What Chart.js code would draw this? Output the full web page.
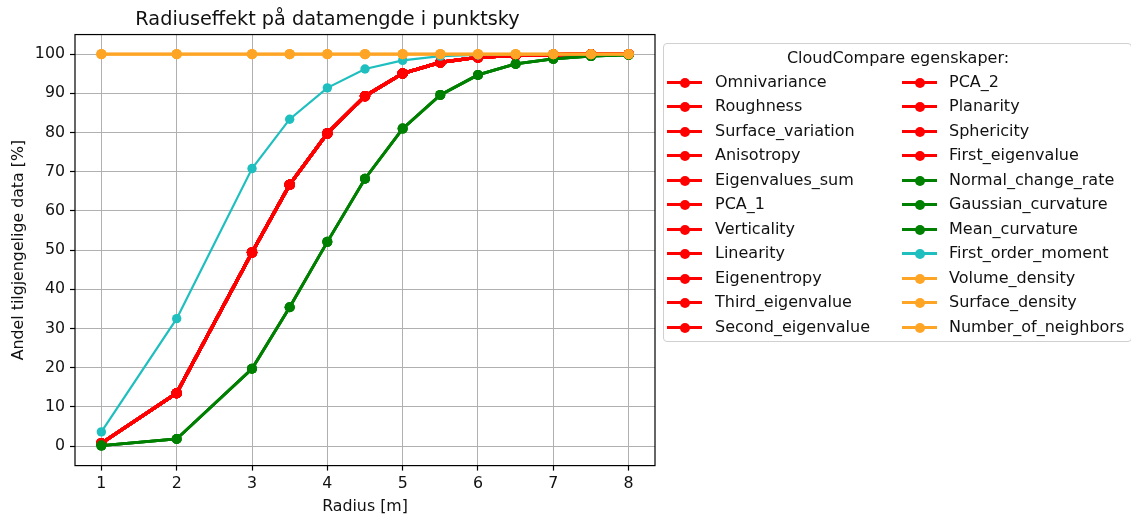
<!DOCTYPE html>
<html>
<head>
<meta charset="utf-8">
<script src="https://cdn.jsdelivr.net/npm/chart.js@4"></script>
<style>
    body { margin: 0; background: #fff; font-family: 'DejaVu Sans', sans-serif; }
    #wrap { position: relative; width: 1131px; height: 517px; overflow: hidden; }
    #legend {
        position: absolute; left: 663px; top: 43px; width: 469px; height: 299px;
        box-sizing: border-box; border: 1px solid #d0d0d0; border-radius: 4px;
        background: rgba(255, 255, 255, 0.8); color: #111; font-size: 16px;
    }
    .legend-title { position: absolute; left: 0; width: 468px; text-align: center; line-height: 20px; }
    .legend-item { position: absolute; line-height: 20px; white-space: nowrap; }
    .legend-line { position: absolute; width: 35px; height: 3px; }
    .legend-dot { position: absolute; width: 10px; height: 10px; border-radius: 50%; }
</style>
</head>
<body>
<div id="wrap">
    <canvas id="chart" width="1131" height="517"></canvas>
    <div id="legend"></div>
</div>
<script>
const radius = [1, 2, 3, 3.5, 4, 4.5, 5, 5.5, 6, 6.5, 7, 7.5, 8];
const xTicks = [1, 2, 3, 4, 5, 6, 7, 8];
const yTicks = [0, 10, 20, 30, 40, 50, 60, 70, 80, 90, 100];

const redFeatures = ['Omnivariance', 'Roughness', 'Surface_variation', 'Anisotropy', 'Eigenvalues_sum',
    'PCA_1', 'Verticality', 'Linearity', 'Eigenentropy', 'Third_eigenvalue', 'Second_eigenvalue',
    'PCA_2', 'Planarity', 'Sphericity', 'First_eigenvalue'];
const greenFeatures = ['Normal_change_rate', 'Gaussian_curvature', 'Mean_curvature'];
const cyanFeatures = ['First_order_moment'];
const orangeFeatures = ['Volume_density', 'Surface_density', 'Number_of_neighbors'];

const redValues = [0.7, 13.5, 49.4, 66.7, 79.8, 89.3, 95.1, 97.9, 99.2, 99.7, 99.9, 100, 100];
const greenValues = [0.1, 1.8, 19.7, 35.4, 52.1, 68.2, 81.0, 89.6, 94.7, 97.5, 98.8, 99.5, 99.8];
const cyanValues = [3.6, 32.5, 70.8, 83.4, 91.4, 96.2, 98.4, 99.5, 99.8, 99.9, 100, 100, 100];
const orangeValues = [100, 100, 100, 100, 100, 100, 100, 100, 100, 100, 100, 100, 100];

const groups = [
    { names: redFeatures, values: redValues, color: '#ff0000', width: 3.2, point: 5.2 },
    { names: greenFeatures, values: greenValues, color: '#008000', width: 2.8, point: 5 },
    { names: cyanFeatures, values: cyanValues, color: '#1fbfbf', width: 2.2, point: 4.7 },
    { names: orangeFeatures, values: orangeValues, color: '#ffa526', width: 2.8, point: 5 }
];

const font = 'DejaVu Sans';

// one dataset per feature, later ones drawn on top like matplotlib
let datasets = [];
groups.forEach(g => {
    g.names.forEach(name => {
        datasets.push({
            label: name,
            data: radius.map((r, i) => ({ x: r, y: g.values[i] })),
            borderColor: g.color,
            backgroundColor: g.color,
            borderWidth: g.width,
            pointRadius: g.point,
            pointBorderWidth: 0,
            pointBackgroundColor: g.color
        });
    });
});
datasets.forEach((d, i) => { d.order = datasets.length - i; });

const frame = {
    id: 'frame',
    afterDatasetsDraw(chart) {
        const a = chart.chartArea;
        const ctx = chart.ctx;
        ctx.save();
        ctx.strokeStyle = '#000';
        ctx.lineWidth = 1.2;
        ctx.strokeRect(a.left, a.top, a.right - a.left, a.bottom - a.top);
        ctx.restore();
    }
};

const gridStyle = { color: '#b0b0b0', lineWidth: 1, tickLength: 5, tickColor: '#000', tickWidth: 1.2 };

new Chart(document.getElementById('chart'), {
    type: 'line',
    data: { datasets: datasets },
    plugins: [frame],
    options: {
        responsive: false,
        animation: false,
        devicePixelRatio: 1,
        layout: { padding: { left: 0, right: 476, top: 0, bottom: 0 } },
        plugins: {
            legend: { display: false },
            tooltip: { enabled: false },
            title: {
                display: true,
                text: 'Radiuseffekt på datamengde i punktsky',
                color: '#111',
                font: { family: font, size: 19.3, weight: 'normal' },
                padding: { top: 8.4, bottom: 3 }
            }
        },
        scales: {
            x: {
                type: 'linear',
                min: 0.65,
                max: 8.35,
                afterBuildTicks: s => { s.ticks = xTicks.map(v => ({ value: v })); },
                afterFit: s => { s.height = 51.4; },
                grid: gridStyle,
                border: { display: false },
                ticks: { color: '#111', padding: 4, maxRotation: 0, font: { family: font, size: 15.8 } },
                title: {
                    display: true, text: 'Radius [m]', color: '#111',
                    font: { family: font, size: 15.8 }, padding: { top: 0, bottom: 0.8 }
                }
            },
            y: {
                type: 'linear',
                min: -5,
                max: 105,
                afterBuildTicks: s => { s.ticks = yTicks.map(v => ({ value: v })); },
                afterFit: s => { s.width = 75; },
                grid: gridStyle,
                border: { display: false },
                ticks: { color: '#111', padding: 5, font: { family: font, size: 15.8 } },
                title: {
                    display: true, text: 'Andel tilgjengelige data [%]', color: '#111',
                    font: { family: font, size: 15.8 }, padding: { top: 9, bottom: 0 }
                }
            }
        }
    }
});

// legend in two columns, filled column by column
function buildLegend() {
    const box = document.getElementById('legend');
    const title = document.createElement('div');
    title.className = 'legend-title';
    title.textContent = 'CloudCompare egenskaper:';
    title.style.top = (14 - 10) + 'px';
    box.appendChild(title);

    const perColumn = Math.ceil(datasets.length / 2);
    datasets.forEach((d, i) => {
        const col = Math.floor(i / perColumn);
        const row = i % perColumn;
        const cy = Math.round(37.7 + row * 24.5);
        const mx = col === 0 ? 3 : 238;
        const tx = col === 0 ? 51 : 285;

        const line = document.createElement('div');
        line.className = 'legend-line';
        line.style.left = mx + 'px';
        line.style.top = (cy - 1) + 'px';
        line.style.background = d.borderColor;
        box.appendChild(line);

        const dot = document.createElement('div');
        dot.className = 'legend-dot';
        dot.style.left = (mx + 13) + 'px';
        dot.style.top = (cy - 4.5) + 'px';
        dot.style.background = d.borderColor;
        box.appendChild(dot);

        const label = document.createElement('div');
        label.className = 'legend-item';
        label.style.left = tx + 'px';
        label.style.top = (cy - 10) + 'px';
        label.textContent = d.label;
        box.appendChild(label);
    });
}

buildLegend();
</script>
</body>
</html>
